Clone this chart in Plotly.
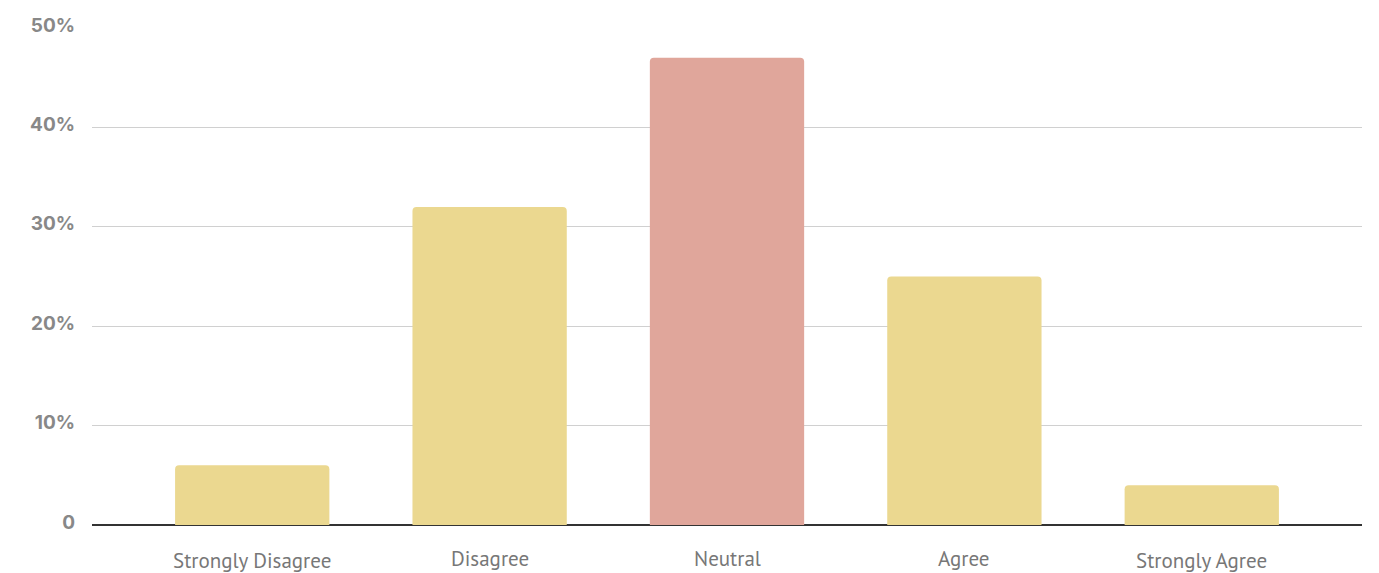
import plotly.graph_objects as go

categories = ["Strongly Disagree", "Disagree", "Neutral", "Agree", "Strongly Agree"]
percent = [6, 32, 47, 25, 4]
bar_colors = ["#EBD890", "#EBD890", "#E0A69B", "#EBD890", "#EBD890"]

y_ticks = [0, 10, 20, 30, 40, 50]
y_tick_labels = ["0", "10%", "20%", "30%", "40%", "50%"]

# Labels containing "Strongly" sit slightly lower under the axis
label_offset = {c: (-35 if c.startswith("Strongly") else -33) for c in categories}

fig = go.Figure(
    go.Bar(
        x=list(range(len(categories))),
        y=percent,
        marker=dict(color=bar_colors, line=dict(width=0), cornerradius=4),
        width=0.65,
        hoverinfo="skip",
    )
)

for i, c in enumerate(categories):
    fig.add_annotation(
        x=i, y=0, xref="x", yref="paper",
        text=c, showarrow=False,
        yanchor="middle", yshift=label_offset[c],
        font=dict(family="PT Sans, Lato, sans-serif", size=21, color="#777777"),
    )

fig.update_layout(
    width=1379, height=573,
    margin=dict(l=92, r=17, t=28, b=48),
    paper_bgcolor="white", plot_bgcolor="white",
    showlegend=False,
    xaxis=dict(
        range=[-0.675, 4.675],
        showticklabels=False, showgrid=False, zeroline=False,
        fixedrange=True,
    ),
    yaxis=dict(
        range=[0, 50],
        tickvals=y_ticks, ticktext=y_tick_labels,
        showgrid=True, gridcolor="#D0D0D0", gridwidth=1,
        zeroline=True, zerolinecolor="#333333", zerolinewidth=1.5,
        ticklabelstandoff=16, ticklabelshift=-3,
        tickfont=dict(family="Inter", size=19, color="#888888", weight=700),
        fixedrange=True,
    ),
)

fig.write_html("out.html")
